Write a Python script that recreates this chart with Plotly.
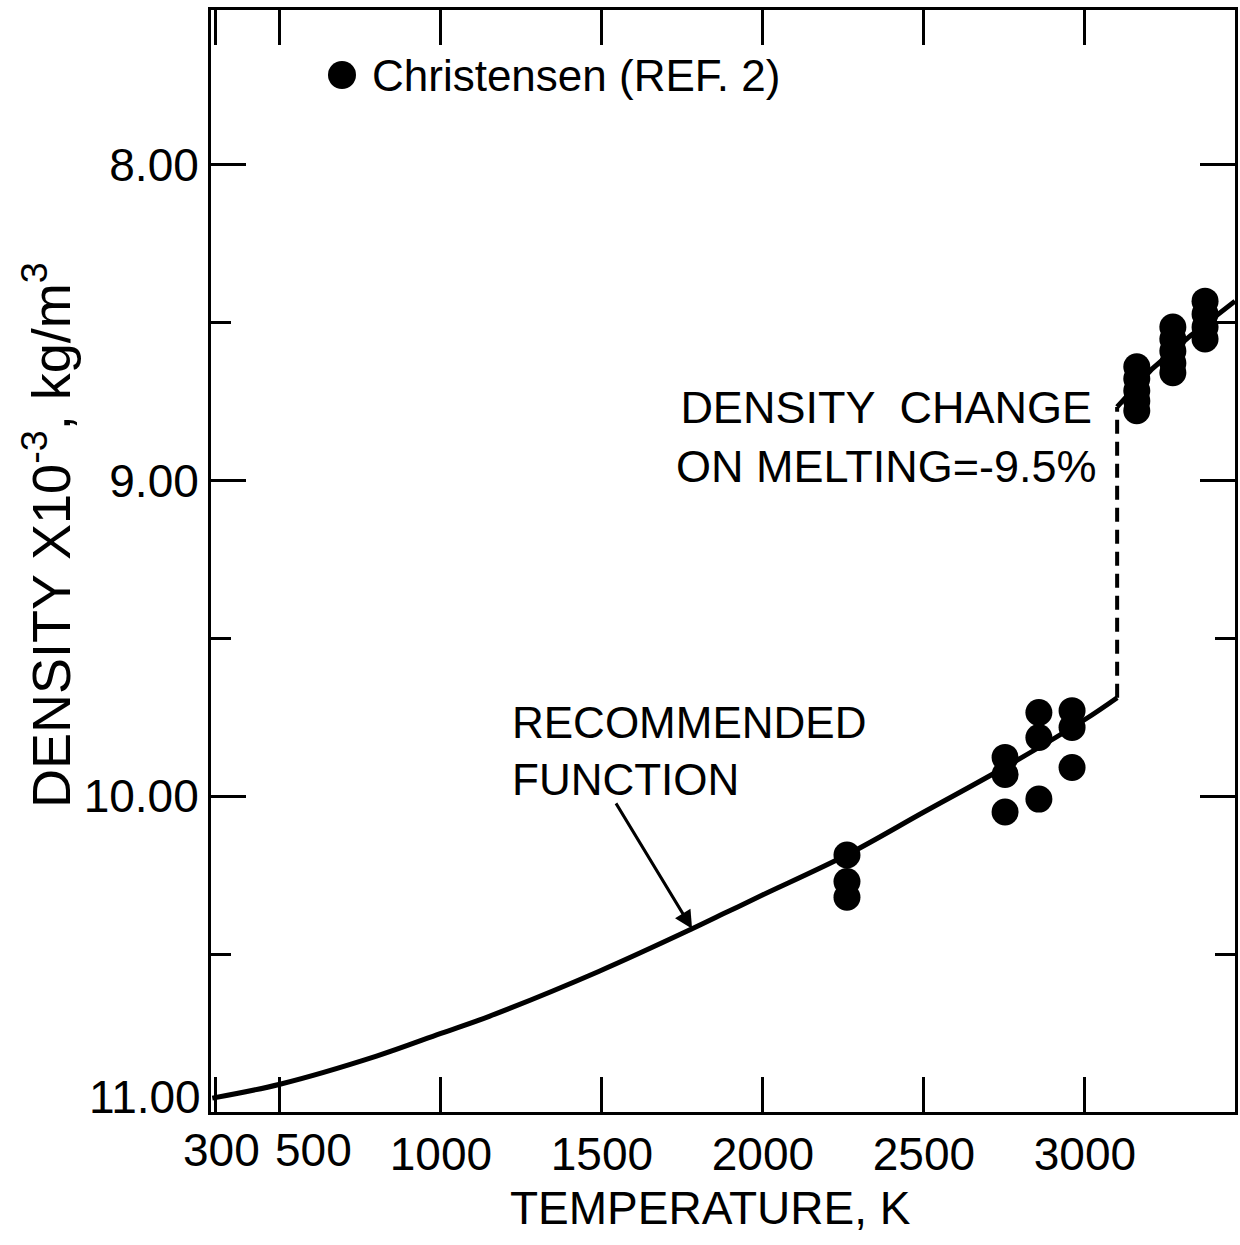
import plotly.graph_objects as go

# ---- data ----
solid_T = [290, 500, 800, 1000, 1150, 1490, 1780, 1890, 2000, 2260, 2500, 2750, 3000, 3100]
solid_rho = [10.956, 10.912, 10.823, 10.751, 10.697, 10.555, 10.420, 10.366, 10.312, 10.186, 10.050, 9.909, 9.757, 9.688]

melt_T = [3100, 3100]
melt_rho = [9.688, 8.767]

liquid_T = [3100, 3208, 3326, 3466]
liquid_rho = [8.767, 8.647, 8.543, 8.432]

chr_T = [2261, 2261, 2261,
         2752, 2752, 2752,
         2857, 2857, 2857,
         2960, 2960, 2960,
         3161, 3161, 3161, 3161, 3161,
         3273, 3273, 3273, 3273, 3273,
         3373, 3373, 3373, 3373]
chr_rho = [10.186, 10.27, 10.32,
           9.877, 9.931, 10.050,
           9.735, 9.814, 10.009,
           9.729, 9.782, 9.909,
           8.640, 8.678, 8.716, 8.748, 8.779,
           8.514, 8.552, 8.590, 8.628, 8.659,
           8.432, 8.473, 8.514, 8.552]

x_low_tickvals = [300, 500]
x_low_ticktext = ["300", "500"]
x_tickvals = [1000, 1500, 2000, 2500, 3000]
x_ticktext = ["1000", "1500", "2000", "2500", "3000"]
y_tickvals = [8.0, 9.0, 10.0]
y_ticktext = ["8.00", "9.00", "10.00"]
y_bottom_label = "11.00"
y_minor_tickvals = [8.5, 9.5, 10.5]

FONT = "Liberation Sans, Arial, sans-serif"

fig = go.Figure()
fig.add_trace(go.Scatter(x=solid_T, y=solid_rho, mode="lines", line=dict(color="black", width=5, shape="spline"),
                         showlegend=False, hoverinfo="skip"))
fig.add_trace(go.Scatter(x=melt_T, y=melt_rho, mode="lines", line=dict(color="black", width=4, dash="14px,8px"),
                         showlegend=False, hoverinfo="skip"))
fig.add_trace(go.Scatter(x=liquid_T, y=liquid_rho, mode="lines", line=dict(color="black", width=5),
                         showlegend=False, hoverinfo="skip"))
fig.add_trace(go.Scatter(x=chr_T, y=chr_rho, mode="markers", marker=dict(color="black", size=27),
                         name="Christensen (REF. 2)", showlegend=False))

# plot-area geometry in pixels (for paper placement of free text)
L, R, T, B = 211, 1235, 10, 1112
def px(x):
    return (x - L) / (R - L)
def py(y):
    return (B - y) / (B - T)

# legend dot + text
fig.add_shape(type="circle", xref="paper", yref="paper",
              x0=px(328), x1=px(356), y0=py(89), y1=py(61),
              fillcolor="black", line=dict(color="black", width=0))

annos = [
    dict(text="Christensen (REF. 2)", x=px(370), y=py(75), xanchor="left", yanchor="middle", size=44),
    dict(text="RECOMMENDED<br>FUNCTION", x=px(510), y=py(751), xanchor="left", yanchor="middle", size=44, align="left"),
    dict(text="DENSITY  CHANGE<br>ON MELTING=-9.5%", x=px(886), y=py(437), xanchor="center", yanchor="middle", size=45, align="center"),
]
for a in annos:
    fig.add_annotation(text=a["text"], xref="paper", yref="paper", x=a["x"], y=a["y"],
                       xanchor=a["xanchor"], yanchor=a["yanchor"], showarrow=False,
                       align=a.get("align", "left"),
                       font=dict(family=FONT, size=a["size"], color="black"))

# crowded tick labels at the low end, placed by hand as in the reference
fig.add_annotation(text=x_low_ticktext[0], xref="paper", yref="paper", x=px(262), y=py(1150),
                   xanchor="right", yanchor="middle", showarrow=False,
                   font=dict(family=FONT, size=46, color="black"))
fig.add_annotation(text=x_low_ticktext[1], xref="paper", yref="paper", x=px(273), y=py(1150),
                   xanchor="left", yanchor="middle", showarrow=False,
                   font=dict(family=FONT, size=46, color="black"))
fig.add_annotation(text=y_bottom_label, xref="paper", yref="paper", x=px(203), y=py(1097),
                   xanchor="right", yanchor="middle", showarrow=False,
                   font=dict(family=FONT, size=46, color="black"))

# arrow to recommended function curve
fig.add_annotation(x=1780, y=10.420, xref="x", yref="y", text="", showarrow=True,
                   ax=-77, ay=-127, arrowhead=2, arrowsize=1.2, arrowwidth=3, arrowcolor="black")

# axis titles
fig.add_annotation(text="TEMPERATURE, K", xref="paper", yref="paper", x=px(710), y=py(1208),
                   xanchor="center", yanchor="middle", showarrow=False,
                   font=dict(family=FONT, size=46, color="black"))
fig.add_annotation(text="DENSITY X10<sup>-3</sup>, kg/m<sup>3</sup>", xref="paper", yref="paper",
                   x=px(47), y=py(535), xanchor="center", yanchor="middle", showarrow=False,
                   textangle=-90, font=dict(family=FONT, size=54, color="black"))

fig.update_xaxes(range=[286, 3466], tickvals=x_tickvals, ticktext=x_ticktext, tickangle=0,
                 ticks="inside", ticklen=35, tickwidth=3, tickcolor="black",
                 minor=dict(tickvals=x_low_tickvals, ticks="inside", ticklen=35, tickwidth=3, tickcolor="black"),
                 showline=True, linewidth=3, linecolor="black", mirror="ticks",
                 showgrid=False, zeroline=False, automargin=False,
                 tickfont=dict(family=FONT, size=46, color="black"))
fig.update_yaxes(range=[11.0, 7.51], tickvals=y_tickvals, ticktext=y_ticktext,
                 ticks="inside", ticklen=35, tickwidth=3, tickcolor="black",
                 minor=dict(tickvals=y_minor_tickvals, ticks="inside", ticklen=20, tickwidth=3, tickcolor="black"),
                 showline=True, linewidth=3, linecolor="black", mirror="ticks",
                 showgrid=False, zeroline=False, automargin=False,
                 tickfont=dict(family=FONT, size=46, color="black"))

fig.update_layout(width=1240, height=1245, margin=dict(l=L, r=1240 - R, t=T, b=1245 - B, autoexpand=False),
                  plot_bgcolor="white", paper_bgcolor="white", showlegend=False)

fig.write_html("out.html")
